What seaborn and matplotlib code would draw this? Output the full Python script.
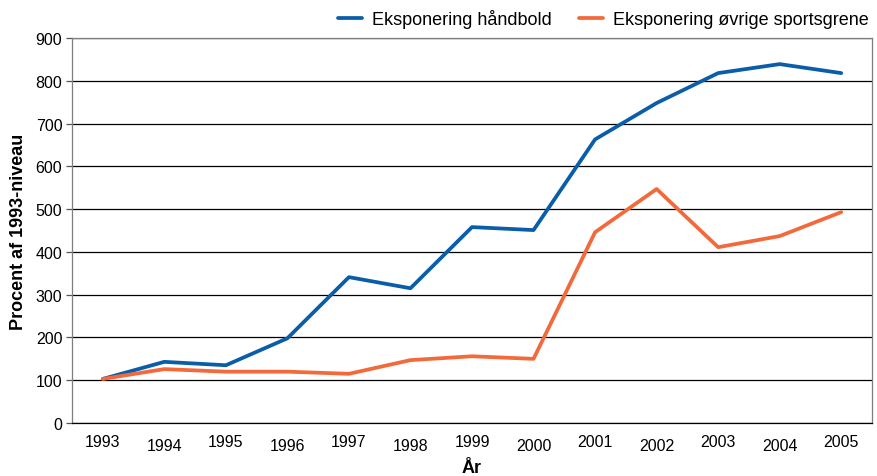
import pandas as pd
import matplotlib.pyplot as plt
import matplotlib.transforms as mtransforms
import seaborn as sns

# Data
years = [1993, 1994, 1995, 1996, 1997, 1998, 1999, 2000, 2001, 2002, 2003, 2004, 2005]
handbold = [103, 143, 135, 198, 341, 315, 458, 451, 663, 748, 818, 839, 818]
oevrige = [103, 126, 120, 120, 115, 147, 156, 150, 446, 547, 411, 437, 493]
series_names = ["Eksponering håndbold", "Eksponering øvrige sportsgrene"]
colors = ["#0a5ea8", "#f26a3b"]

pos = list(range(len(years)))
df = pd.DataFrame({
    "pos": pos * 2,
    "value": handbold + oevrige,
    "serie": [series_names[0]] * len(years) + [series_names[1]] * len(years),
})

sns.set_style("white")
plt.rcParams['font.family'] = ['Liberation Sans', 'DejaVu Sans']
plt.rcParams['text.color'] = 'black'
plt.rcParams['axes.labelcolor'] = 'black'
plt.rcParams['xtick.color'] = 'black'
plt.rcParams['ytick.color'] = 'black'

fig = plt.figure(figsize=(8.77, 4.77), dpi=100)
ax = fig.add_axes([0.0821, 0.1111, 0.9122, 0.8071])

sns.lineplot(data=df, x="pos", y="value", hue="serie", palette=colors,
             linewidth=2.7, ax=ax)

# Axes
ax.set_xlim(-0.5, len(years) - 0.5)
ax.set_ylim(0, 900)
ax.set_yticks(range(0, 901, 100))
ax.yaxis.grid(True, color="black", linewidth=0.9)
ax.set_axisbelow(True)

ax.set_xticks(pos)
ax.set_xticklabels([str(y) for y in years], fontsize=11.5)
ax.set_xticks([p - 0.5 for p in pos] + [len(years) - 0.5], minor=True)
ax.tick_params(axis="x", which="major", length=0, pad=8)
ax.tick_params(axis="x", which="minor", length=4, color="#555555", width=0.9)
ax.tick_params(axis="y", length=4, color="#555555", width=0.9, labelsize=11.5, pad=3,
               left=True)

# staggered year labels
for i, lab in enumerate(ax.get_xticklabels()):
    if i % 2 == 1:
        off = mtransforms.ScaledTranslation(0, -4 / 100, fig.dpi_scale_trans)
        lab.set_transform(lab.get_transform() + off)

for s in ax.spines.values():
    s.set_color("#7f7f7f")
    s.set_linewidth(0.9)
ax.spines["bottom"].set_color("black")

ax.set_xlabel("År", fontsize=13, fontweight="bold", labelpad=4)
ax.set_ylabel("Procent af 1993-niveau", fontsize=13, fontweight="bold", labelpad=6)

ax.legend(title=None, loc="lower right", bbox_to_anchor=(1.0, 1.016), ncol=2,
          frameon=False, fontsize=13, handlelength=1.33, columnspacing=1.5,
          borderaxespad=0.0, borderpad=0.2, handletextpad=0.55)

plt.savefig("out.png", dpi=100)
